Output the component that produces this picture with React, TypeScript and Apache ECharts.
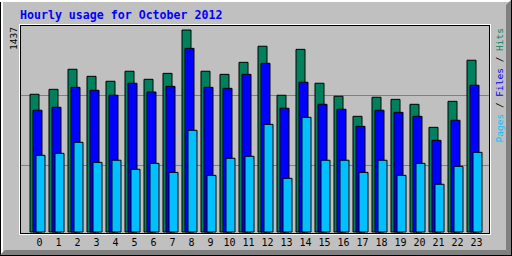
import { useEffect, useRef } from "react";
import * as echarts from "echarts";

const hours = ["0","1","2","3","4","5","6","7","8","9","10","11","12","13","14","15","16","17","18","19","20","21","22","23"];
const hits = [982,1017,1159,1109,1074,1145,1088,1130,1437,1145,1123,1208,1322,975,1300,1060,968,826,961,946,911,748,932,1223];
const files = [869,890,1031,1010,975,1060,998,1038,1307,1031,1024,1123,1201,883,1067,911,876,755,869,854,826,656,798,1046];
const pages = [550,564,642,500,515,451,493,429,727,408,529,543,769,387,819,515,515,429,515,408,493,345,472,571];
const maxLabel = "1437";
const title = "Hourly usage for October 2012";

const MONO = "DejaVu Sans Mono";

export default function App() {
  const ref = useRef<HTMLDivElement>(null);
  useEffect(() => {
    const chart = echarts.init(ref.current!, null, { renderer: "svg" });
    const line = (x1: number, y1: number, x2: number, y2: number, stroke: string, z = 50) => ({
      type: "line",
      z,
      silent: true,
      shape: { x1, y1, x2, y2 },
      style: { stroke, lineWidth: 1 },
    });
    chart.setOption({
      animation: false,
      backgroundColor: "#C0C0C0",
      grid: { left: 28, width: 456, top: 29.5, height: 203, containLabel: false },
      xAxis: {
        type: "category",
        data: hours,
        axisLine: { show: false },
        axisTick: { show: false },
        splitLine: { show: false },
        axisLabel: {
          interval: 0,
          margin: 5,
          padding: [0, 0, 0, 4],
          fontFamily: MONO,
          fontSize: 10,
          color: "#000",
        },
      },
      yAxis: {
        type: "value",
        min: 0,
        max: 1437,
        axisLine: { show: false },
        axisTick: { show: false },
        axisLabel: { show: false },
        splitLine: { show: false },
      },
      series: [
        { name: "Hits", data: hits, color: "#00805C" },
        { name: "Files", data: files, color: "#0000FF" },
        { name: "Pages", data: pages, color: "#00C0FF" },
      ].map((s) => ({
        type: "bar",
        name: s.name,
        data: s.data,
        barWidth: 10,
        barGap: "-70%",
        z: 5,
        itemStyle: { color: s.color, borderColor: "#000", borderWidth: 1 },
      })),
      graphic: [
        // outer bevel
        line(0.5, 0, 0.5, 256, "#000"),
        line(0, 0.5, 512, 0.5, "#FFFFFF"),
        line(0, 1.5, 510, 1.5, "#FFFFFF"),
        line(1.5, 1, 1.5, 254, "#FFFFFF"),
        line(2.5, 2, 2.5, 253, "#FFFFFF"),
        { type: "polygon", z: 50, silent: true, shape: { points: [[506, 5], [511, 0], [511, 256], [506, 250]] }, style: { fill: "#808080" } },
        { type: "polygon", z: 50, silent: true, shape: { points: [[5, 250], [506, 250], [511, 255], [0, 255]] }, style: { fill: "#808080" } },
        line(511.5, 0, 511.5, 256, "#000"),
        line(0, 255.5, 512, 255.5, "#000"),
        // grid lines
        line(21, 95.5, 489, 95.5, "#808080", 1),
        line(21, 165.5, 489, 165.5, "#808080", 1),
        // plot frame
        line(19, 24.5, 491, 24.5, "#FFFFFF"),
        line(19.5, 24, 19.5, 235, "#FFFFFF"),
        line(19, 234.5, 491, 234.5, "#FFFFFF"),
        line(490.5, 24, 490.5, 235, "#FFFFFF"),
        line(20, 25.5, 490, 25.5, "#000"),
        line(20.5, 25, 20.5, 234, "#000"),
        line(20, 233.5, 490, 233.5, "#000"),
        line(489.5, 25, 489.5, 234, "#000"),
        // title
        {
          type: "text",
          z: 60,
          x: 20,
          y: 15,
          style: {
            text: title,
            fill: "#0000FF",
            font: `bold 11.6px "${MONO}"`,
            textAlign: "left",
            textVerticalAlign: "middle",
          },
        },
        // max value
        {
          type: "text",
          z: 60,
          x: 13.5,
          y: 27,
          rotation: Math.PI / 2,
          style: {
            text: maxLabel,
            fill: "#000",
            font: `9.5px "${MONO}"`,
            textAlign: "right",
            textVerticalAlign: "middle",
          },
        },
        // legend
        {
          type: "text",
          z: 60,
          x: 499,
          y: 28,
          rotation: Math.PI / 2,
          style: {
            text: "{p|Pages} / {f|Files} / {h|Hits}",
            fill: "#000",
            font: `9.5px "${MONO}"`,
            fontFamily: MONO,
            fontSize: 9.5,
            textAlign: "right",
            textVerticalAlign: "middle",
            rich: {
              p: { fill: "#00C0FF", fontFamily: MONO, fontSize: 9.5 },
              f: { fill: "#0000FF", fontFamily: MONO, fontSize: 9.5 },
              h: { fill: "#00805C", fontFamily: MONO, fontSize: 9.5 },
            },
          },
        },
      ],
    });
    return () => chart.dispose();
  }, []);
  return (
    <div
      ref={ref}
      style={{ width: 512, height: 256, position: "absolute", left: 0, top: 0 }}
    />
  );
}
